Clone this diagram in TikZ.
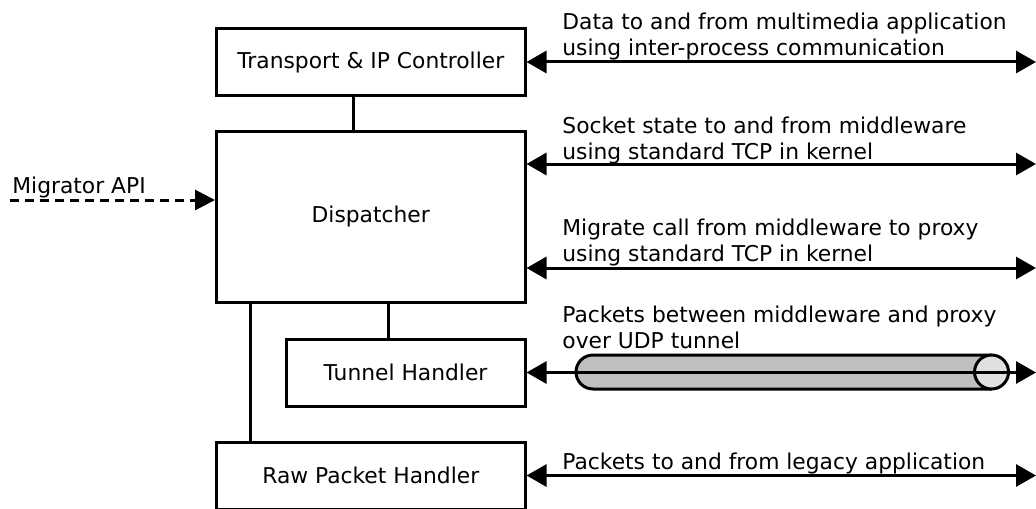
\documentclass[tikz,border=0pt]{standalone}
\usepackage{fontspec}
\setmainfont{DejaVu Sans}
\usetikzlibrary{positioning,arrows.meta}

\begin{document}
\begin{tikzpicture}[x=0.5pt,y=-0.5pt,
    every node/.style={font=\fontsize{10.9pt}{13pt}\selectfont},
    block/.style={draw,line width=1.5pt,minimum width=154.25pt,minimum height=33.5pt,inner sep=0pt},
    link/.style={line width=1.5pt},
    dbl/.style={line width=1.5pt,{Triangle[length=10pt,width=11pt]}-{Triangle[length=10pt,width=11pt]}},
    note/.style={anchor=south west,align=left,inner sep=0pt,text depth=0pt}]
    \useasboundingbox (0,0) rectangle (1036,508);
    \coordinate (rim) at (1036,0);
    \node[block] (tipc) at (370.75,62) {Transport \& IP Controller};
    \node[block,minimum height=85.5pt] (disp) at (370.75,216.5) {Dispatcher};
    \node[block,minimum width=119.5pt] (tunh) at (405.5,372.5) {Tunnel Handler};
    \node[block] (raw) at (370.75,475.5) {Raw Packet Handler};
    \draw[link] ([xshift=-8.4pt]tipc.south) -- ([xshift=-8.4pt]disp.north);
    \draw[link] ([xshift=9pt]disp.south) -- ([xshift=9pt]disp.south |- tunh.north);
    \draw[link] ([xshift=-60pt]disp.south) -- ([xshift=-60pt]raw.north);
    % the UDP tunnel
    \draw[line width=1.5pt,fill=black!25] (991.5,355) -- (593,355) arc[start angle=-90,end angle=-270,radius=17] -- (991.5,389);
    \draw[line width=1.5pt,fill=black!12] (991.5,372) circle[radius=17];
    \draw[dbl] (tipc.east) -- (tipc.east -| rim);
    \draw[dbl] ([yshift=-51pt]tipc.east) -- ([yshift=-51pt]tipc.east -| rim);
    \draw[dbl] ([yshift=-103pt]tipc.east) -- ([yshift=-103pt]tipc.east -| rim);
    \draw[dbl] (tunh.east) -- (tunh.east -| rim);
    \draw[dbl] (raw.east) -- (raw.east -| rim);
    \node[note] (n1) at (562,56) {Data to and from multimedia application\\using inter-process communication};
    \node[note] (n2) at (562,160) {Socket state to and from middleware\\using standard TCP in kernel};
    \node[note] (n3) at (562,262) {Migrate call from middleware to proxy\\using standard TCP in kernel};
    \node[note] (n4) at (562,349) {Packets between middleware and proxy\\over UDP tunnel};
    \node[note] (n5) at (562,470) {Packets to and from legacy application};
    % migrator input
    \coordinate (api) at (10,200);
    \node[anchor=base west,inner sep=0pt] (apilbl) at (12,193) {Migrator API};
    \draw[line width=1.5pt,dash pattern=on 4.5pt off 3pt,-{Triangle[length=10pt,width=10pt]}] (api) -- (api -| disp.west);
\end{tikzpicture}
\end{document}
